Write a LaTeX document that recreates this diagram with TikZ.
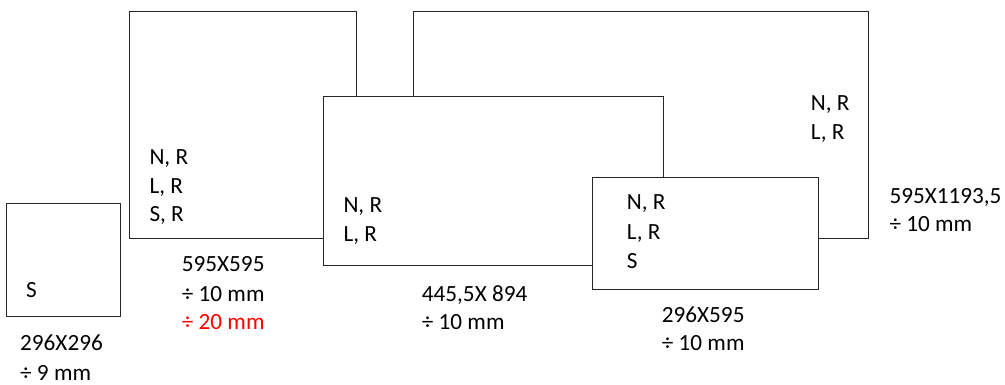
\documentclass[tikz,border=0pt]{standalone}
\usepackage{fontspec}
\setmainfont{Carlito}
\begin{document}
\begin{tikzpicture}[x=1pt,y=-1pt,
  panel/.style={draw=black!85,line width=0.9pt,fill=white},
  txt/.style={anchor=base west,inner sep=0pt,font=\fontsize{23.2}{27}\selectfont}]
\useasboundingbox (0,0) rectangle (1005,385);
% back panels
\draw[panel] (129.5,11) rectangle (356.5,238.3);
\draw[panel] (413.3,11) rectangle (868.3,238.3);
% middle panel
\draw[panel] (323.3,96.3) rectangle (663.3,265.7);
% front panel
\draw[panel] (592.3,177.7) rectangle (818.5,289);
% small square
\draw[panel] (6.3,203.3) rectangle (120,316.7);
% texts in small square
\node[txt] (s1) at (26,297.7) {S};
\node[txt] (s2) at (20,350.7) {296X296};
\node[txt] (s3) at (20,380.5) {\char"00F7\ 9 mm};
% panel A
\node[txt] (a1) at (149.3,164.3) {N, R};
\node[txt] (a2) at (149.3,193.5) {L, R};
\node[txt] (a3) at (149.3,221.7) {S, R};
\node[txt] (a4) at (181.7,271.7) {595X595};
\node[txt] (a5) at (181.7,301) {\char"00F7\ 10 mm};
\node[txt,text=red] (a6) at (181.7,329.3) {\char"00F7\ 20 mm};
% panel B
\node[txt] (b1) at (810.7,110.7) {N, R};
\node[txt] (b2) at (810.7,139.3) {L, R};
\node[txt] (b3) at (889.3,204) {595X1193,5};
\node[txt] (b4) at (889.3,231.7) {\char"00F7\ 10 mm};
% panel C
\node[txt] (c1) at (343.3,212.3) {N, R};
\node[txt] (c2) at (343.3,241.7) {L, R};
\node[txt] (c3) at (421.7,301.7) {445,5X 894};
\node[txt] (c4) at (421.7,329.3) {\char"00F7\ 10 mm};
% panel D
\node[txt] (d1) at (626.7,210) {N, R};
\node[txt] (d2) at (626.7,239.5) {L, R};
\node[txt] (d3) at (626.7,268.3) {S};
\node[txt] (d4) at (661.7,322.7) {296X595};
\node[txt] (d5) at (661.7,350.7) {\char"00F7\ 10 mm};
\end{tikzpicture}
\end{document}
